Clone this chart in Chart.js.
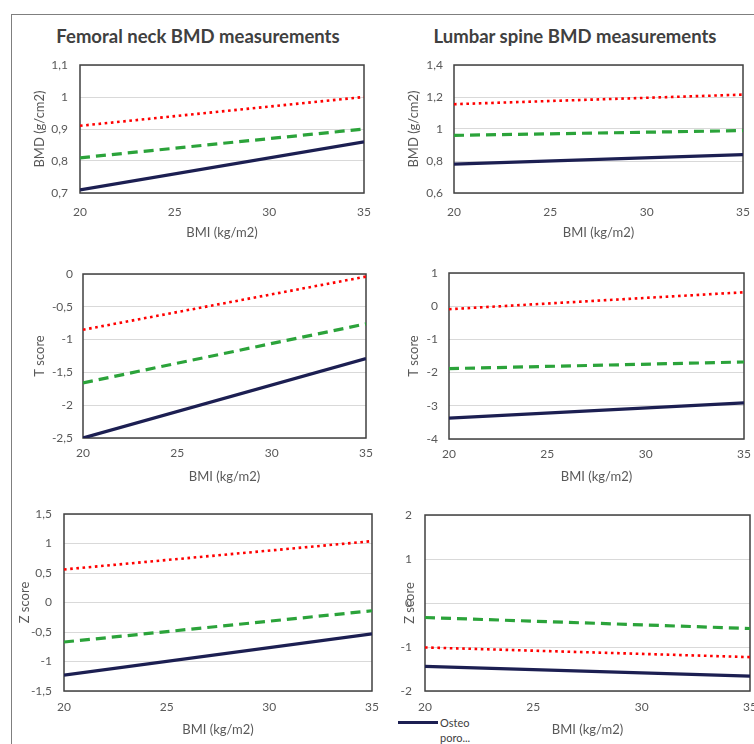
<!DOCTYPE html>
<html><head><meta charset="utf-8">
<script src="https://cdn.jsdelivr.net/npm/chart.js@4/dist/chart.umd.min.js"></script>
<style>
html,body{margin:0;padding:0;}
body{width:754px;height:744px;overflow:hidden;background:#fff;position:relative;font-family:Lato,'Open Sans',sans-serif;}
.frame{position:absolute;left:11px;top:14px;width:800px;height:800px;border-left:1.5px solid #7f7f7f;border-top:1.5px solid #7f7f7f;}
.title{position:absolute;font-weight:bold;color:#404040;white-space:nowrap;transform:translate(-50%,-50%);font-size:18.5px;}
.pw{position:absolute;}
.leg-line{position:absolute;left:398px;top:720.5px;width:40px;height:3px;background:#1c1f52;}
.leg-text{position:absolute;left:440px;top:715px;font-size:11px;line-height:15px;color:#404040;}
</style></head>
<body>
<div class="frame"></div>
<div class="title" id="t1" style="left:198px;top:36px;">Femoral neck BMD measurements</div>
<div class="title" id="t2" style="left:575px;top:36px;">Lumbar spine BMD measurements</div>
<div class="leg-line"></div>
<div class="leg-text">Osteo<br>poro...</div>
<script>
// ---- data ----
const bmi = [20, 35];
const seriesNames = ["Osteoporosis", "Osteopenia", "Normal"];

const fnBmdOsteoporosis = [0.71, 0.86];
const fnBmdOsteopenia   = [0.81, 0.90];
const fnBmdNormal       = [0.91, 1.00];

const lsBmdOsteoporosis = [0.78, 0.84];
const lsBmdOsteopenia   = [0.96, 0.99];
const lsBmdNormal       = [1.155, 1.215];

const fnTOsteoporosis = [-2.50, -1.29];
const fnTOsteopenia   = [-1.66, -0.76];
const fnTNormal       = [-0.85, -0.04];

const lsTOsteoporosis = [-3.37, -2.91];
const lsTOsteopenia   = [-1.88, -1.68];
const lsTNormal       = [-0.09, 0.42];

const fnZOsteoporosis = [-1.23, -0.53];
const fnZOsteopenia   = [-0.67, -0.14];
const fnZNormal       = [0.56, 1.04];

const lsZOsteoporosis = [-1.44, -1.66];
const lsZOsteopenia   = [-0.33, -0.58];
const lsZNormal       = [-1.01, -1.23];

const xTicks = [20, 25, 30, 35];
const xTitle = "BMI (kg/m2)";

// ---- rendering ----
Chart.defaults.font.family = "Lato, 'Open Sans', sans-serif";
Chart.defaults.color = '#595959';

const YW = 70, XH = 50;
const TICK_FONT = 12, TITLE_FONT = 13;

const borderPlugin = {
  id: 'plotBorder',
  beforeDatasetsDraw(chart) {
    const a = chart.chartArea, ctx = chart.ctx;
    ctx.save();
    ctx.strokeStyle = '#404040';
    ctx.lineWidth = 1.5;
    ctx.strokeRect(a.left, a.top, a.right - a.left, a.bottom - a.top);
    ctx.restore();
  }
};

function fmt(v) {
  return (Math.round(v * 100) / 100).toString().replace('.', ',');
}
function pts(ys) { return ys.map((y, i) => ({x: bmi[i], y})); }

function panel(p) {
  const tlh = TITLE_FONT * 1.2, klh = TICK_FONT * 1.2;
  const xPad = p.xTickY - p.B - klh / 2;
  const PT = Math.ceil(klh / 2 + p.tickPad + 2);
  const PR = Math.ceil(xPad + 10);
  const wrap = document.createElement('div');
  wrap.className = 'pw';
  const left = p.L - YW, top = p.T - PT;
  const w = p.R - p.L + YW + PR, h = p.B - p.T + PT + XH;
  wrap.style.left = left + 'px'; wrap.style.top = top + 'px';
  wrap.style.width = w + 'px'; wrap.style.height = h + 'px';
  const c = document.createElement('canvas');
  c.width = w; c.height = h;
  wrap.appendChild(c);
  document.body.appendChild(wrap);
  new Chart(c, {
    type: 'line',
    data: {
      datasets: [
        {label: seriesNames[2], data: pts(p.normal), borderColor: '#ff0000', borderWidth: 2.6, borderDash: [2.6, 3.6], pointRadius: 0, fill: false},
        {label: seriesNames[1], data: pts(p.penia), borderColor: '#2ba33a', borderWidth: 3.2, borderDash: [10, 6], pointRadius: 0, fill: false},
        {label: seriesNames[0], data: pts(p.osteo), borderColor: '#1c1f52', borderWidth: 3.2, pointRadius: 0, fill: false}
      ]
    },
    options: {
      responsive: false, animation: false, devicePixelRatio: 1,
      layout: {padding: {top: PT, right: PR, left: 0, bottom: 0}},
      plugins: {legend: {display: false}, tooltip: {enabled: false}},
      scales: {
        x: {
          type: 'linear', min: xTicks[0], max: xTicks[xTicks.length - 1],
          afterBuildTicks: s => { s.ticks = xTicks.map(v => ({value: v})); },
          afterFit: s => { s.height = XH; },
          grid: {display: false, drawTicks: false},
          border: {display: false},
          ticks: {font: {size: TICK_FONT}, padding: xPad, color: '#595959', maxRotation: 0},
          title: {display: true, text: xTitle, font: {size: TITLE_FONT}, color: '#595959',
                  padding: {top: 0, bottom: (p.B + XH) - p.xTitleY - tlh / 2}}
        },
        y: {
          min: p.ymin, max: p.ymax,
          afterFit: s => { s.width = YW; },
          grid: {color: '#d9d9d9', lineWidth: 1, drawTicks: false},
          border: {display: false},
          ticks: {stepSize: p.step, font: {size: TICK_FONT}, padding: p.tickPad, color: '#595959', callback: v => fmt(v)},
          title: {display: true, text: p.yTitle, font: {size: TITLE_FONT}, color: '#595959',
                  padding: {top: (p.yTitleX - left) - tlh / 2, bottom: 0}}
        }
      }
    },
    plugins: [borderPlugin]
  });
}

panel({L: 80, T: 65, R: 364, B: 193, yTitle: 'BMD (g/cm2)', yTitleX: 40, tickPad: 12, xTickY: 212, xTitleY: 233,
  ymin: 0.7, ymax: 1.1, step: 0.1, osteo: fnBmdOsteoporosis, penia: fnBmdOsteopenia, normal: fnBmdNormal});
panel({L: 454, T: 65, R: 743, B: 193, yTitle: 'BMD (g/cm2)', yTitleX: 414, tickPad: 11, xTickY: 212, xTitleY: 233,
  ymin: 0.6, ymax: 1.4, step: 0.2, osteo: lsBmdOsteoporosis, penia: lsBmdOsteopenia, normal: lsBmdNormal});
panel({L: 83, T: 274, R: 366, B: 438, yTitle: 'T score', yTitleX: 40, tickPad: 10, xTickY: 453, xTitleY: 477,
  ymin: -2.5, ymax: 0, step: 0.5, osteo: fnTOsteoporosis, penia: fnTOsteopenia, normal: fnTNormal});
panel({L: 449, T: 273, R: 744, B: 439, yTitle: 'T score', yTitleX: 414, tickPad: 11, xTickY: 454, xTitleY: 477,
  ymin: -4, ymax: 1, step: 1, osteo: lsTOsteoporosis, penia: lsTOsteopenia, normal: lsTNormal});
panel({L: 64, T: 514, R: 372, B: 691, yTitle: 'Z score', yTitleX: 25, tickPad: 12, xTickY: 707, xTitleY: 730,
  ymin: -1.5, ymax: 1.5, step: 0.5, osteo: fnZOsteoporosis, penia: fnZOsteopenia, normal: fnZNormal});
panel({L: 425, T: 515, R: 750, B: 691, yTitle: 'Z score', yTitleX: 410, tickPad: 13, xTickY: 707, xTitleY: 730,
  ymin: -2, ymax: 2, step: 1, osteo: lsZOsteoporosis, penia: lsZOsteopenia, normal: lsZNormal});
</script>
</body></html>
